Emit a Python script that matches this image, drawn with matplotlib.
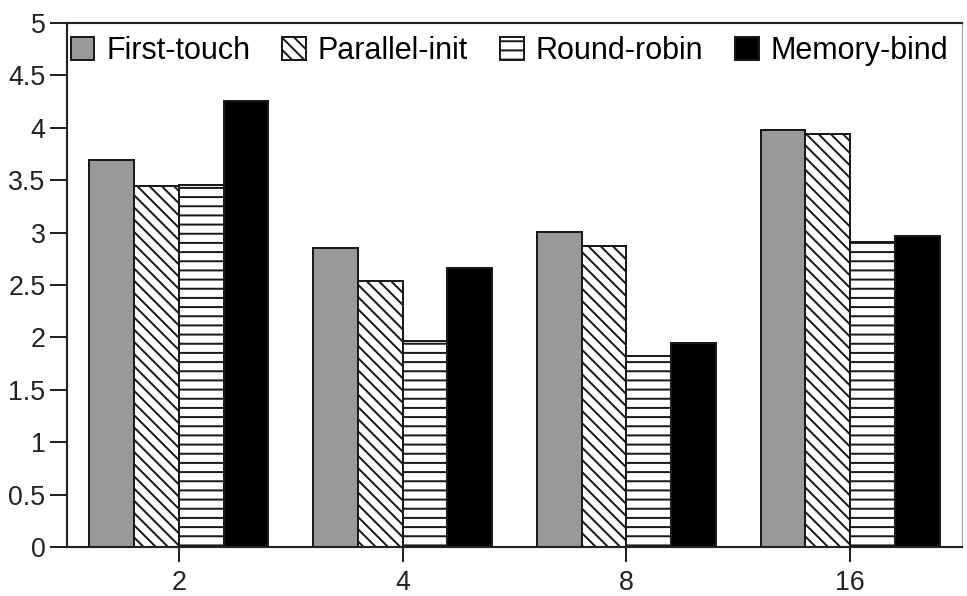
import matplotlib
matplotlib.use("Agg")
import matplotlib.pyplot as plt
import numpy as np

# values
GROUPS = ["2", "4", "8", "16"]
SERIES = ["First-touch", "Parallel-init", "Round-robin", "Memory-bind"]
FIRST_TOUCH = [3.69, 2.85, 3.01, 3.98]
PARALLEL_INIT = [3.44, 2.54, 2.87, 3.94]
ROUND_ROBIN = [3.45, 1.97, 1.82, 2.91]
MEMORY_BIND = [4.26, 2.66, 1.95, 2.97]
Y_TICKS = [0, 0.5, 1, 1.5, 2, 2.5, 3, 3.5, 4, 4.5, 5]

STYLES = [
    dict(color="#999999", hatch=None),
    dict(color="white", hatch="\\\\\\"),
    dict(color="white", hatch="--"),
    dict(color="black", hatch=None),
]


def main() -> None:
    plt.rcParams["font.family"] = ["Liberation Sans", "DejaVu Sans"]
    plt.rcParams["hatch.linewidth"] = 1.3
    plt.rcParams["hatch.color"] = "black"

    dpi = 110
    fig = plt.figure(figsize=(967 / dpi, 596 / dpi), dpi=dpi)
    ax = fig.add_axes([67 / 967, 49 / 596, 895 / 967, 524 / 596])

    data = [FIRST_TOUCH, PARALLEL_INIT, ROUND_ROBIN, MEMORY_BIND]
    x = np.arange(len(GROUPS))
    width = 0.2
    n = len(SERIES)
    for i, (name, vals, st) in enumerate(zip(SERIES, data, STYLES)):
        offset = (i - (n - 1) / 2) * width
        ax.bar(x + offset, vals, width, color=st["color"], hatch=st["hatch"],
               edgecolor="#1a1a1a", linewidth=1.3, label=name)

    ax.set_xlim(-0.5, len(GROUPS) - 0.5)
    ax.set_ylim(0, 5)
    ax.set_xticks(x)
    ax.set_xticklabels(GROUPS)
    ax.set_yticks(Y_TICKS)
    ax.set_yticklabels([f"{t:g}" for t in Y_TICKS])
    ax.tick_params(axis="y", length=11, width=1.3, pad=3, labelsize=17.5,
                   colors="#222222")
    ax.tick_params(axis="x", length=10, width=1.3, pad=5, labelsize=17.5,
                   colors="#222222")

    for side in ["left", "bottom", "top"]:
        ax.spines[side].set_linewidth(1.4)
        ax.spines[side].set_color("#222222")
    ax.spines["right"].set_linewidth(0.8)
    ax.spines["right"].set_color("#aaaaaa")

    ax.legend(ncol=4, loc="upper left", bbox_to_anchor=(0.004, 0.975),
              frameon=False, borderpad=0, borderaxespad=0, fontsize=20,
              handlelength=0.78, handleheight=0.78, handletextpad=0.38,
              columnspacing=1.05)

    fig.savefig("out.png", dpi=dpi)


if __name__ == "__main__":
    main()
